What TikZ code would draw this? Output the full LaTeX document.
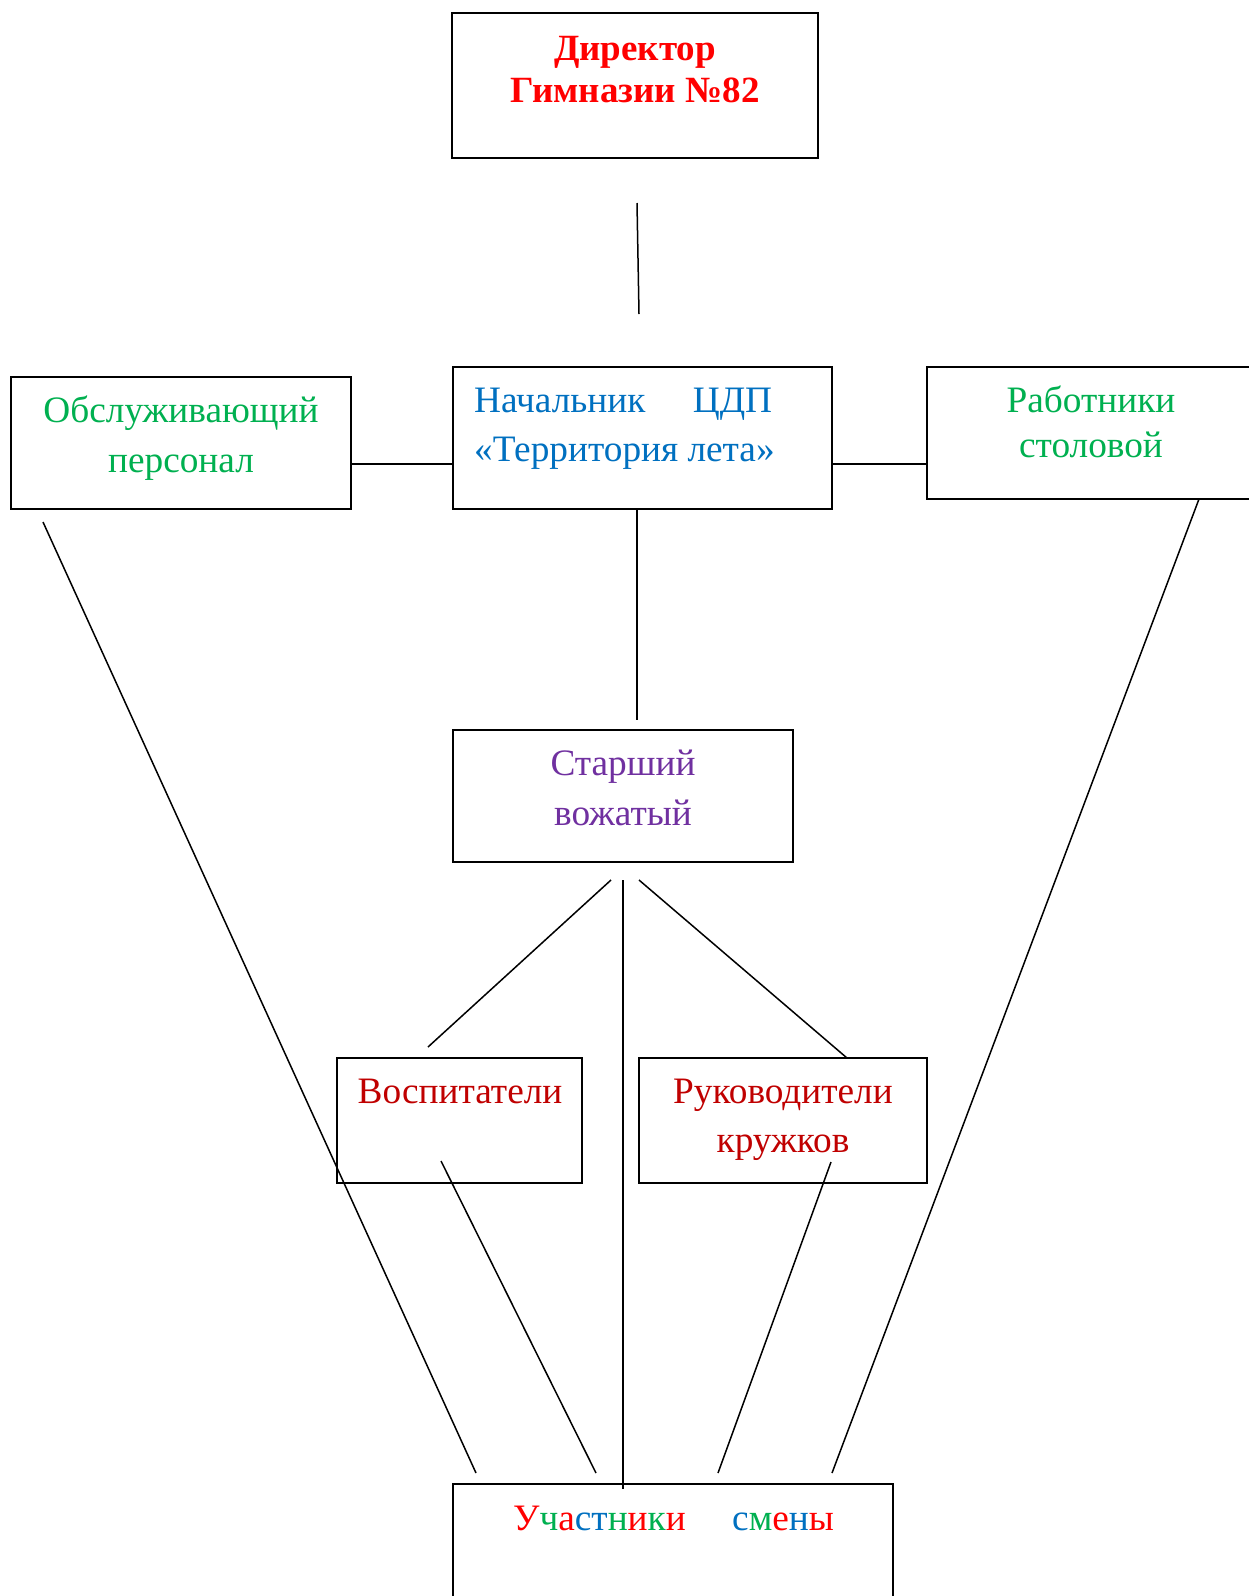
\documentclass[tikz,border=0pt]{standalone}
\usepackage{fontspec}
\setmainfont{Liberation Serif}
\definecolor{cred}{HTML}{FF0000}
\definecolor{cgreen}{HTML}{00B050}
\definecolor{cblue}{HTML}{0070C0}
\definecolor{cpurple}{HTML}{7030A0}
\definecolor{cdark}{HTML}{C00000}
\begin{document}
\begin{tikzpicture}[x=1pt,y=-1pt,
  box/.style={draw=black,line width=1.6pt,rectangle,inner sep=0pt,fill=none},
  link/.style={draw=black,line width=1.5pt},
  lbl/.style={anchor=base,inner sep=0pt,font=\fontsize{37.3}{44}\selectfont},
  lblw/.style={anchor=base west,inner sep=0pt,font=\fontsize{37.3}{44}\selectfont}]
\useasboundingbox (0,0) rectangle (1248,1596);
\fill[white] (0,0) rectangle (1248,1596);
% boxes
\node[box,minimum width=366pt,minimum height=145pt] (dir) at (635,85.5) {};
\node[box,minimum width=340pt,minimum height=132pt] (obs) at (181,443) {};
\node[box,minimum width=379pt,minimum height=142pt] (nach) at (642.5,438) {};
\node[box,minimum width=324pt,minimum height=132pt] (rab) at (1089,433) {};
\node[box,minimum width=340pt,minimum height=132pt] (star) at (623,796) {};
\node[box,minimum width=245pt,minimum height=125pt] (vos) at (459.5,1120.5) {};
\node[box,minimum width=288pt,minimum height=125pt] (ruk) at (783,1120.5) {};
\node[box,minimum width=440pt,minimum height=130pt] (uch) at (673,1549) {};
% texts
\node[lbl,font=\fontsize{37}{44}\selectfont\bfseries,text=cred] (t1) at (635,60) {Директор};
\node[lbl,font=\fontsize{37}{44}\selectfont\bfseries,text=cred] (t2) at (635,102) {Гимназии №82};
\node[lbl,text=cgreen] (t3) at (181,422) {Обслуживающий};
\node[lbl,text=cgreen] (t4) at (181,472) {персонал};
\node[lblw,text=cblue] (t5) at (474,412) {\hbox to 298pt{Начальник\hfill ЦДП}};
\node[lblw,text=cblue] (t6) at (474,461) {«Территория лета»};
\node[lbl,text=cgreen] (t7) at (1091,412) {Работники};
\node[lbl,text=cgreen] (t8) at (1091,457) {столовой};
\node[lbl,text=cpurple] (t9) at (623,775) {Старший};
\node[lbl,text=cpurple] (t10) at (623,825) {вожатый};
\node[lbl,text=cdark] (t11) at (460,1103) {Воспитатели};
\node[lbl,text=cdark] (t12) at (783,1103) {Руководители};
\node[lbl,text=cdark] (t13) at (783,1152) {кружков};
\node[lblw] (t14) at (513,1530) {\textcolor{cred}{У}\textcolor{cgreen}{ч}\textcolor{cred}{а}\textcolor{cblue}{ст}\textcolor{cgreen}{н}\textcolor{cred}{и}\textcolor{cgreen}{к}\textcolor{cred}{и}};
\node[lblw] (t15) at (732,1530) {\textcolor{cblue}{с}\textcolor{cgreen}{м}\textcolor{cred}{е}\textcolor{cblue}{н}\textcolor{cred}{ы}};
% free ends
\coordinate (d1) at (637,203);
\coordinate (d2) at (639,314);
\coordinate (lvl) at (0,464);
\coordinate (ns) at (637,720);
\coordinate (s1) at (611,880);
\coordinate (s1e) at (428,1047);
\coordinate (s2) at (623,880);
\coordinate (s2e) at (623,1489);
\coordinate (s3) at (639,880);
\coordinate (s3e) at (847,1058);
\coordinate (v1) at (441,1161);
\coordinate (v1e) at (596,1473);
\coordinate (r1) at (831,1162);
\coordinate (r1e) at (718,1473);
\coordinate (o1) at (43,522);
\coordinate (o1e) at (476,1473);
\coordinate (w1) at (1199,499);
\coordinate (w1e) at (832,1473);
% connectors
\draw[link] (d1) -- (d2);
\draw[link] (obs.east |- lvl) -- (nach.west |- lvl);
\draw[link] (nach.east |- lvl) -- (rab.west |- lvl);
\draw[link] (nach.south -| ns) -- (ns);
\draw[link] (s1) -- (s1e);
\draw[link] (s2) -- (s2e);
\draw[link] (s3) -- (s3e);
\draw[link] (v1) -- (v1e);
\draw[link] (r1) -- (r1e);
\draw[link] (o1) -- (o1e);
\draw[link] (w1) -- (w1e);
\end{tikzpicture}
\end{document}
